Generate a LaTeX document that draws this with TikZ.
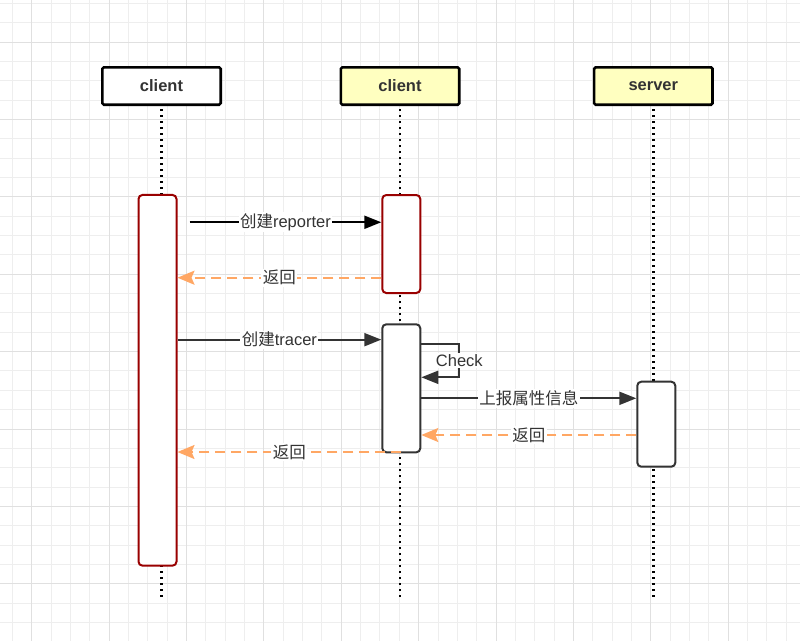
\documentclass[tikz,border=0pt]{standalone}
\usepackage{fontspec}
\setmainfont{Liberation Sans}
\newfontfamily\cjk{Noto Sans CJK SC}
\usetikzlibrary{arrows.meta}

\definecolor{textgray}{HTML}{333333}
\definecolor{headyellow}{HTML}{FFFFC0}
\definecolor{actred}{HTML}{990000}
\definecolor{actgray}{HTML}{333333}
\definecolor{msgdark}{HTML}{333333}
\definecolor{retorange}{HTML}{FFA764}
\definecolor{gridminor}{HTML}{EEEEEE}
\definecolor{gridmajor}{HTML}{E0E0E0}

\newcommand{\diagfont}{\fontsize{16.5pt}{19pt}\selectfont}

\begin{document}
\begin{tikzpicture}[x=1pt,y=-1pt,
  font=\diagfont,
  head/.style={draw=black, line width=2.6pt, rounded corners=1.5pt,
    minimum width=118.4pt, minimum height=37.4pt, inner sep=0pt,
    font=\diagfont\bfseries, text=textgray},
  life/.style={black, line width=2.4pt, dash pattern=on 2.4pt off 3.6pt},
  act/.style={line width=2pt, fill=white, rounded corners=4pt,
    minimum width=38pt, inner sep=0pt},
  msg/.style={draw=msgdark, line width=2pt, -{Triangle[length=17pt,width=13pt]}},
  ret/.style={draw=retorange, line width=2pt, dash pattern=on 10pt off 6pt,
    -{Stealth[length=17pt,width=14pt,inset=3pt]}},
  lbl/.style={fill=white, text=textgray, inner sep=1.5pt}]

  \useasboundingbox (0,0) rectangle (800,641);
  \fill[white] (0,0) rectangle (800,641);

  % grid
  \foreach \i in {0,...,40}
    \draw[gridminor, line width=1pt] ({12.3+19.35*\i},0) -- ({12.3+19.35*\i},641);
  \foreach \j in {0,...,32}
    \draw[gridminor, line width=1pt] (0,{3.3+19.35*\j}) -- (800,{3.3+19.35*\j});
  \foreach \i in {1,5,...,37}
    \draw[gridmajor, line width=1pt] ({12.3+19.35*\i},0) -- ({12.3+19.35*\i},641);
  \foreach \j in {2,6,...,30}
    \draw[gridmajor, line width=1pt] (0,{3.3+19.35*\j}) -- (800,{3.3+19.35*\j});

  % participants
  \node[head, fill=white] (cl1) at (161.5,86) {client};
  \node[head, fill=headyellow] (cl2) at (400,86) {client};
  \node[head, fill=headyellow] (srv) at (653.3,86) {server};

  \coordinate (cl1end) at (161.5,598);
  \coordinate (cl2end) at (400,598);
  \coordinate (srvend) at (653.3,598);

  \draw[life] ([yshift=-3pt]cl1.south) -- (cl1end);
  \draw[life] ([yshift=-3pt]cl2.south) -- (cl2end);
  \draw[life] ([yshift=-3pt]srv.south) -- (srvend);

  % activations
  \node[act, draw=actred, minimum height=370.7pt] (a1) at (157.5,380.3) {};
  \node[act, draw=actred, minimum height=98pt] (a2) at (401.3,244) {};
  \node[act, draw=actgray, minimum height=128pt] (a3) at (401.3,388.3) {};
  \node[act, draw=actgray, minimum height=85pt] (a4) at (656.3,424.2) {};

  % message start points
  \coordinate (m1) at ([xshift=12pt,yshift=-28.3pt]a1.north east);
  \coordinate (m2) at ([yshift=-83.7pt]a2.north west);
  \coordinate (m3) at ([yshift=-145.7pt]a1.north east);
  \coordinate (m4) at ([yshift=-20.7pt]a3.north east);
  \coordinate (m5) at ([yshift=-75pt]a3.north east);
  \coordinate (m6) at ([yshift=-54.3pt]a4.north west);
  \coordinate (m7) at ([yshift=1.3pt]a3.south);

  % messages
  \draw[msg, draw=black] (m1) -- node[lbl] {{\cjk 创建}reporter} (a2.west |- m1);
  \draw[ret] (m2) -- node[lbl] {\cjk 返回} (a1.east |- m2);
  \draw[msg] (m3) -- node[lbl] {{\cjk 创建}tracer} (a3.west |- m3);
  \draw[msg] (m4) -- ++(38,0) -- node[lbl] {Check} ++(0,33.3) coordinate (chk)
    -- (a3.east |- chk);
  \draw[msg] (m5) -- node[lbl] {\cjk 上报属性信息} (a4.west |- m5);
  \draw[ret] (m6) -- node[lbl] {\cjk 返回} (a3.east |- m6);
  \draw[ret] (m7) -- node[lbl] {\cjk 返回} (a1.east |- m7);

\end{tikzpicture}
\end{document}
